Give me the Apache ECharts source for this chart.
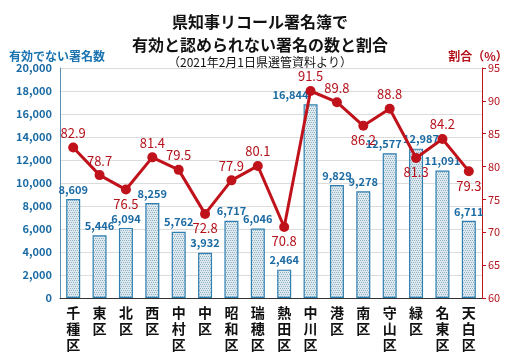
<!DOCTYPE html>
<html><head><meta charset="utf-8">
<script src="https://cdn.jsdelivr.net/npm/echarts@6/dist/echarts.min.js"></script>
<style>html,body{margin:0;padding:0;background:#fff}#c{width:520px;height:356px}</style>
</head><body><div id="c"></div>
<script>
const categories = ['千種区','東区','北区','西区','中村区','中区','昭和区','瑞穂区','熱田区','中川区','港区','南区','守山区','緑区','名東区','天白区'];
const invalidCounts = [8609,5446,6094,8259,5762,3932,6717,6046,2464,16844,9829,9278,12577,12987,11091,6711];
const ratios = [82.9,78.7,76.5,81.4,79.5,72.8,77.9,80.1,70.8,91.5,89.8,86.2,88.8,81.3,84.2,79.3];
const leftTicks = [0,2000,4000,6000,8000,10000,12000,14000,16000,18000,20000];
const rightTicks = [60,65,70,75,80,85,90,95];

const labelBelow = {2:'bottom',5:'bottom',8:'bottom',11:'bottom',13:'bottom',15:'bottom'};
const barLabelShift = {9:[-20,0], 12:[-6,0], 13:[5,0]};
const FONT = '"Noto Sans CJK JP", sans-serif';

const pc = document.createElement('canvas');
pc.width = 4; pc.height = 4;
const g = pc.getContext('2d');
g.fillStyle = '#dde9ef'; g.fillRect(0,0,4,4);
g.fillStyle = '#8fb2c4';
g.fillRect(0,0,1,1); g.fillRect(2,0,1,1); g.fillRect(1,2,1,1); g.fillRect(3,2,1,1);

const chart = echarts.init(document.getElementById('c'), null, {renderer:'canvas'});
chart.setOption({
  animation:false,
  textStyle:{fontFamily:FONT},
  title:[
    {text:'県知事リコール署名簿で\n有効と認められない署名の数と割合', left:'center', top:5,
     textStyle:{fontSize:16, fontWeight:'bold', color:'#111', lineHeight:23, fontFamily:FONT}},
    {text:'（2021年2月1日県選管資料より）', left:'center', top:51,
     textStyle:{fontSize:12, fontWeight:'normal', color:'#111', fontFamily:FONT}}
  ],
  grid:{left:60, right:38, top:68, bottom:58, outerBoundsMode:'none', containLabel:false},
  xAxis:{type:'category', data:categories,
    axisLine:{lineStyle:{color:'#333', width:1}}, axisTick:{show:false},
    axisLabel:{interval:0, color:'#111', fontSize:14, fontWeight:'bold', lineHeight:16, margin:7,
      formatter:v=>v.split('').join('\n')}},
  yAxis:[
    {type:'value', min:leftTicks[0], max:leftTicks[leftTicks.length-1], interval:leftTicks[1]-leftTicks[0],
     name:'有効でない署名数', nameLocation:'end', nameGap:5,
     nameTextStyle:{color:'#1a73b0', fontSize:12, fontWeight:'bold', align:'center', padding:[0,0,0,-6]},
     axisLine:{show:true, lineStyle:{color:'#5a8fb3'}}, axisTick:{show:false},
     axisLabel:{color:'#1a6aa3', fontSize:11, fontWeight:'bold', margin:8,
       formatter:v=>v.toLocaleString('en-US')},
     splitLine:{lineStyle:{color:'#dcdcdc'}}},
    {type:'value', min:rightTicks[0], max:rightTicks[rightTicks.length-1], interval:rightTicks[1]-rightTicks[0],
     name:'割合（%）', nameLocation:'end', nameGap:5,
     nameTextStyle:{color:'#b5121b', fontSize:12, fontWeight:'bold', padding:[0,0,0,-8]},
     axisLine:{show:true, lineStyle:{color:'#c0121b'}},
     axisTick:{show:true, length:4, lineStyle:{color:'#c0121b'}},
     axisLabel:{color:'#b5121b', fontSize:11, margin:6},
     splitLine:{show:false}}
  ],
  series:[
    {type:'bar', yAxisIndex:0, barWidth:14,
     data:invalidCounts.map((v,i)=>barLabelShift[i]?{value:v, label:{offset:barLabelShift[i]}}:v),
     itemStyle:{color:{image:pc, repeat:'repeat'}, borderColor:'#2f7fb0', borderWidth:1.2},
     label:{show:true, position:'top', distance:4, color:'#1a6aa3', fontSize:11, fontWeight:'bold',
       formatter:p=>p.value.toLocaleString('en-US')}},
    {type:'line', yAxisIndex:1,
     data:ratios.map((v,i)=>({value:v, label:{position:labelBelow[i]||'top'}})),
     lineStyle:{color:'#c0121b', width:3}, itemStyle:{color:'#c0121b'},
     symbol:'circle', symbolSize:10,
     label:{show:true, distance:3, color:'#b5121b', fontSize:13, fontWeight:'normal',
       formatter:p=>p.value.toFixed(1)}}
  ]
});
</script></body></html>
